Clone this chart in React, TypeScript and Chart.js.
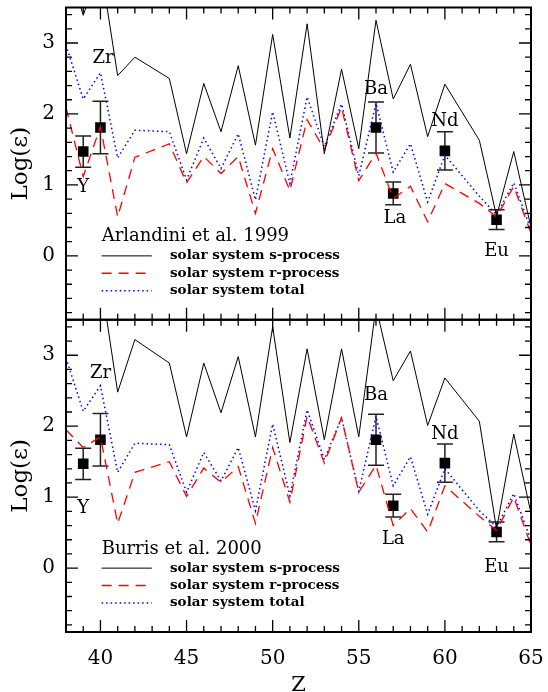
import React, { useEffect, useRef } from "react";
import { Chart, registerables } from "chart.js";

Chart.register(...registerables);

// ---------- data ----------
const Z = [38, 39, 40, 41, 42, 44, 45, 46, 47, 48, 49, 50, 51, 52, 53, 54, 55, 56, 57, 58, 59, 60, 62, 63, 64, 65];

const S_ARLANDINI = [4.2, 3.39, 4.1, 2.54, 2.8, 2.5, 1.44, 2.43, 1.75, 2.68, 1.56, 3.12, 1.66, 3.27, 1.44, 2.63, 1.51, 3.32, 2.21, 2.7, 1.68, 2.42, 1.63, 0.56, 1.47, 0.4];
const R_ARLANDINI = [2.09, 1.12, 1.82, 0.55, 1.39, 1.58, 1.03, 1.4, 1.16, 1.4, 0.6, 1.51, 0.92, 1.92, 1.5, 2.09, 1.06, 1.45, 0.81, 0.98, 0.48, 1.02, 0.74, 0.55, 0.98, 0.32];
const TOTAL_ARLANDINI = [2.97, 2.21, 2.58, 1.38, 1.77, 1.75, 1.07, 1.66, 1.23, 1.72, 0.79, 2.03, 1.02, 2.24, 1.54, 2.14, 1.13, 2.15, 1.18, 1.58, 0.76, 1.42, 0.84, 0.58, 1.03, 0.37];

const S_BURRIS = [4.3, 3.8, 4.1, 2.48, 3.22, 2.89, 1.85, 2.89, 2.19, 2.98, 1.85, 3.4, 1.77, 3.09, 1.81, 3.09, 1.85, 3.68, 2.64, 3.06, 2.01, 2.68, 2.07, 0.55, 1.89, 0.77];
const R_BURRIS = [1.95, 1.7, 1.85, 0.63, 1.35, 1.5, 1.01, 1.41, 1.21, 1.43, 0.63, 1.7, 0.93, 2.14, 1.48, 2.12, 1.07, 1.45, 0.6, 0.84, 0.51, 1.16, 0.73, 0.53, 1.0, 0.32];
const TOTAL_BURRIS = [2.96, 2.21, 2.57, 1.35, 1.76, 1.74, 1.07, 1.63, 1.23, 1.7, 0.81, 2.03, 1.02, 2.23, 1.53, 2.12, 1.08, 2.14, 1.16, 1.57, 0.76, 1.4, 0.81, 0.58, 1.05, 0.39];

const OBS_Z = [39, 40, 56, 57, 60, 63];
const OBS_LOG_EPS = [1.47, 1.81, 1.81, 0.88, 1.48, 0.51];
const OBS_ERR = [0.22, 0.37, 0.36, 0.16, 0.27, 0.14];
const OBS_ELEMENTS = ["Y", "Zr", "Ba", "La", "Nd", "Eu"];

const X_TICKS = [40, 45, 50, 55, 60, 65];
const Y_TICKS = [0, 1, 2, 3];
const PANEL_TITLES = ["Arlandini et al. 1999", "Burris et al. 2000"];
const LEGEND_LABELS = ["solar system s-process", "solar system r-process", "solar system total"];

// ---------- layout / style (not data) ----------
const FONT = "'DejaVu Serif', 'Liberation Serif', serif";
const X_MIN = 38, X_MAX = 65, Y_MIN = -0.9, Y_MAX = 3.5;
const STYLES = [
  { color: "#000000", dash: [] as number[], width: 1 },
  { color: "#ff0000", dash: [10, 7], width: 1.3 },
  { color: "#0000ff", dash: [1.5, 3], width: 1.5 },
];
// element label anchors (Z, logeps) per panel
const LABEL_ANCHORS: Record<string, number[][]> = {
  yTop: [[39, 0.97], [40.15, 2.79], [56, 2.35], [57.1, 0.53], [60, 1.89], [63, 0.07]],
  yBot: [[39, 0.84], [40, 2.75], [56, 2.43], [57, 0.4], [60, 1.89], [63, 0.01]],
};

const pts = (ys: number[]) => Z.map((z, i) => ({ x: z, y: ys[i] }));
const obsPts = () => OBS_Z.map((z, i) => ({ x: z, y: OBS_LOG_EPS[i] }));

const framePlugin = {
  id: "framePlugin",
  beforeDatasetsDraw(chart: any) {
    const ctx = chart.ctx;
    const x = chart.scales.x;
    for (const id of ["yTop", "yBot"]) {
      const y = chart.scales[id];
      ctx.save();
      ctx.strokeStyle = "#222";
      ctx.lineWidth = 1.5;
      OBS_Z.forEach((z, i) => {
        const px = x.getPixelForValue(z);
        const t = y.getPixelForValue(OBS_LOG_EPS[i] + OBS_ERR[i]);
        const b = y.getPixelForValue(OBS_LOG_EPS[i] - OBS_ERR[i]);
        ctx.beginPath();
        ctx.moveTo(px, t); ctx.lineTo(px, b);
        ctx.moveTo(px - 8, t); ctx.lineTo(px + 8, t);
        ctx.moveTo(px - 8, b); ctx.lineTo(px + 8, b);
        ctx.stroke();
      });
      ctx.restore();
    }
  },
  afterDraw(chart: any) {
    const ctx = chart.ctx;
    const x = chart.scales.x;
    ["yTop", "yBot"].forEach((id, p) => {
      const y = chart.scales[id];
      const L = x.left, R = x.right, T = y.top, B = y.bottom;
      ctx.save();
      ctx.strokeStyle = "#000";
      // ticks
      ctx.lineWidth = 1.3;
      ctx.beginPath();
      for (let z = X_MIN; z <= X_MAX; z++) {
        const len = z % 5 === 0 ? 12 : 6;
        const px = x.getPixelForValue(z);
        ctx.moveTo(px, B); ctx.lineTo(px, B - len);
        ctx.moveTo(px, T); ctx.lineTo(px, T + len);
      }
      for (let k = -4; k <= 17; k++) {
        const v = k * 0.2;
        const len = k % 5 === 0 ? 12 : 6;
        const py = y.getPixelForValue(v);
        ctx.moveTo(L, py); ctx.lineTo(L + len, py);
        ctx.moveTo(R, py); ctx.lineTo(R - len, py);
      }
      ctx.stroke();
      // frame
      ctx.lineWidth = 2;
      ctx.strokeRect(L, T, R - L, B - T);

      // element labels
      ctx.fillStyle = "#000";
      ctx.font = `18px ${FONT}`;
      ctx.textAlign = "center";
      ctx.textBaseline = "middle";
      LABEL_ANCHORS[id].forEach((a, i) => {
        ctx.fillText(OBS_ELEMENTS[i], x.getPixelForValue(a[0]), y.getPixelForValue(a[1]));
      });

      // legend
      const xs = x.getPixelForValue(40.07), xe = x.getPixelForValue(42.98), xt = x.getPixelForValue(44.04);
      ctx.textAlign = "left";
      ctx.font = `18px ${FONT}`;
      ctx.fillText(PANEL_TITLES[p], xs, y.getPixelForValue(0.27));
      ctx.font = `bold 13.5px ${FONT}`;
      [0, -0.245, -0.49].forEach((v, i) => {
        const py = y.getPixelForValue(v);
        ctx.save();
        ctx.strokeStyle = STYLES[i].color;
        ctx.lineWidth = STYLES[i].width;
        ctx.setLineDash(STYLES[i].dash);
        ctx.beginPath();
        ctx.moveTo(xs, py); ctx.lineTo(xe, py);
        ctx.stroke();
        ctx.restore();
        ctx.fillText(LEGEND_LABELS[i], xt, py);
      });
      ctx.restore();
    });
  },
};

function yAxis(): any {
  return {
    type: "linear",
    position: "left",
    stack: "panels",
    stackWeight: 1,
    min: Y_MIN,
    max: Y_MAX,
    grid: { display: false, drawTicks: false },
    border: { display: false },
    afterBuildTicks: (s: any) => { s.ticks = Y_TICKS.map((v) => ({ value: v })); },
    afterFit: (s: any) => { s.width = 66; s.paddingTop = 0; s.paddingBottom = 0; },
    ticks: { color: "#000", padding: 11, font: { family: FONT, size: 20 } },
    title: { display: true, text: "Log(\u03b5)", color: "#000", font: { family: FONT, size: 23 }, padding: { top: 7, bottom: 0 } },
  };
}

export default function App() {
  const ref = useRef<HTMLCanvasElement | null>(null);
  useEffect(() => {
    if (!ref.current) return;
    const mk = (data: any, yid: string, s: number) => ({
      data,
      yAxisID: yid,
      xAxisID: "x",
      borderColor: STYLES[s].color,
      borderWidth: STYLES[s].width,
      borderDash: STYLES[s].dash,
      pointRadius: 0,
      fill: false,
      tension: 0,
    });
    const obs = (yid: string) => ({
      data: obsPts(),
      yAxisID: yid,
      xAxisID: "x",
      showLine: false,
      pointStyle: "rect",
      pointRadius: 7.5,
      pointBackgroundColor: "#000",
      pointBorderWidth: 0,
      borderColor: "#000",
    });
    const chart = new Chart(ref.current, {
      type: "line",
      data: {
        datasets: [
          mk(pts(S_ARLANDINI), "yTop", 0),
          mk(pts(R_ARLANDINI), "yTop", 1),
          mk(pts(TOTAL_ARLANDINI), "yTop", 2),
          mk(pts(S_BURRIS), "yBot", 0),
          mk(pts(R_BURRIS), "yBot", 1),
          mk(pts(TOTAL_BURRIS), "yBot", 2),
          obs("yTop"),
          obs("yBot"),
        ] as any,
      },
      options: {
        animation: false,
        responsive: false,
        layout: { padding: { top: 7, right: 17, left: 0, bottom: 0 } },
        plugins: { legend: { display: false }, tooltip: { enabled: false } },
        scales: {
          x: {
            type: "linear",
            position: "bottom",
            min: X_MIN,
            max: X_MAX,
            grid: { display: false, drawTicks: false },
            border: { display: false },
            afterBuildTicks: (s: any) => { s.ticks = X_TICKS.map((v) => ({ value: v })); },
            afterFit: (s: any) => { s.height = 60; s.paddingLeft = 0; s.paddingRight = 0; },
            ticks: { color: "#000", padding: 15, maxRotation: 0, font: { family: FONT, size: 20 } },
            title: { display: true, text: "Z", color: "#000", font: { family: FONT, size: 21 }, padding: { top: 0, bottom: -6 } },
          },
          yBot: yAxis(),
          yTop: yAxis(),
        } as any,
      },
      plugins: [framePlugin],
    });
    return () => chart.destroy();
  }, []);
  return (
    <div style={{ position: "absolute", left: 0, top: 0, width: 548, height: 692, background: "#fff" }}>
      <canvas ref={ref} width={548} height={692} style={{ display: "block" }} />
    </div>
  );
}
